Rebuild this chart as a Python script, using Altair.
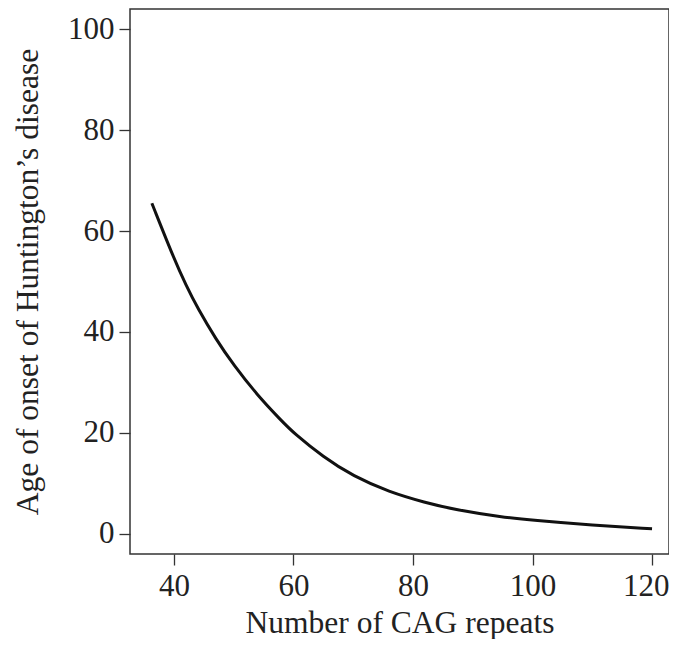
import altair as alt
import pandas as pd

cag_repeats = [36.3, 40, 42, 44, 47, 50, 54, 58, 60, 65, 70, 76, 82, 87, 95, 100, 110, 120]
onset_age = [65.5, 54.5, 49.3, 44.6, 38.6, 33.4, 27.4, 22.4, 20.0, 15.2, 11.4, 8.3, 6.2, 4.8, 3.3, 2.7, 1.7, 1.0]
x_ticks = [40, 60, 80, 100, 120]
y_ticks = [0, 20, 40, 60, 80, 100]

df = pd.DataFrame({"cag": cag_repeats, "age": onset_age})

FONT = "Liberation Serif"

chart = alt.Chart(df).mark_line(
    color="#111111", strokeWidth=3, interpolate="basis"
).encode(
    x=alt.X("cag:Q",
            scale=alt.Scale(domain=[32.64, 122.84], nice=False, zero=False),
            axis=alt.Axis(values=x_ticks, title="Number of CAG repeats", format="d",
                          labelFlush=20, labelFlushOffset=17, labelPadding=6,
                          titlePadding=6)),
    y=alt.Y("age:Q",
            scale=alt.Scale(domain=[-4, 104], nice=False, zero=False),
            axis=alt.Axis(values=y_ticks, title="Age of onset of Huntington\u2019s disease", format="d",
                          labelPadding=5, titlePadding=23)),
).properties(
    width=539,
    height=545,
    autosize=alt.AutoSizeParams(type="none"),
    padding={"left": 122, "top": 1, "right": 0, "bottom": 85},
).configure_view(
    stroke="#333333", strokeWidth=1.5
).configure_axis(
    domain=False,
    grid=False,
    ticks=True,
    tickSize=11,
    tickColor="#333333",
    tickWidth=1.3,
    labelFont=FONT,
    labelFontSize=31,
    labelColor="#222222",
    titleFont=FONT,
    titleFontSize=31.5,
    titleFontWeight="normal",
    titleColor="#222222",
)

chart.save("out.html", embed_options={"renderer": "svg", "actions": False})
